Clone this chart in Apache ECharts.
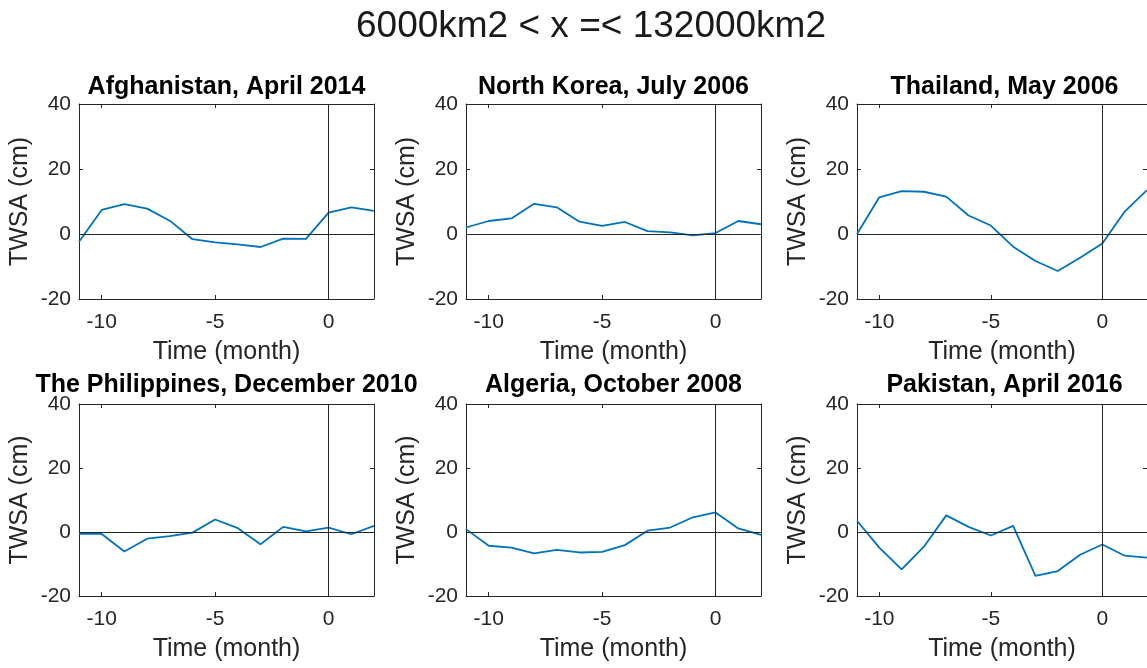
<!DOCTYPE html>
<html>
<head>
<meta charset="utf-8">
<script src="https://cdn.jsdelivr.net/npm/echarts@6/dist/echarts.min.js"></script>
<style>
  html, body { margin: 0; padding: 0; background: #fff; }
  #chart { width: 1147px; height: 668px; }
</style>
</head>
<body>
<div id="chart"></div>
<script>
var mainTitle = '6000km2 < x =< 132000km2'
var months = [-11, -10, -9, -8, -7, -6, -5, -4, -3, -2, -1, 0, 1, 2]
var xTicks = [-10, -5, 0]

var panelTitles = [
  'Afghanistan, April 2014',
  'North Korea, July 2006',
  'Thailand, May 2006',
  'The Philippines, December 2010',
  'Algeria, October 2008',
  'Pakistan, April 2016'
]

// TWSA (cm), one value per month
var afghanistan = [-2.4, 7.4, 9.2, 7.8, 4.1, -1.6, -2.6, -3.2, -4.0, -1.4, -1.5, 6.6, 8.2, 7.1]
var northKorea = [2.0, 4.0, 4.8, 9.3, 8.2, 3.8, 2.5, 3.7, 0.9, 0.5, -0.4, 0.3, 4.0, 3.0]
var thailand = [0.0, 11.3, 13.2, 13.0, 11.5, 5.7, 2.6, -3.9, -8.3, -11.4, -7.3, -2.9, 6.9, 13.5]
var philippines = [-0.6, -0.6, -6.1, -2.1, -1.3, -0.2, 3.9, 1.2, -3.8, 1.6, 0.2, 1.4, -0.7, 1.9]
var algeria = [0.9, -4.3, -4.9, -6.7, -5.6, -6.4, -6.2, -4.1, 0.4, 1.4, 4.6, 6.1, 1.1, -0.9]
var pakistan = [3.5, -4.9, -11.7, -4.6, 5.2, 1.6, -1.1, 1.9, -13.7, -12.2, -7.1, -3.9, -7.4, -8.0]

var panelData = [afghanistan, northKorea, thailand, philippines, algeria, pakistan]

var font = 'Liberation Sans'
var axisColor = '#262626'
var gridLefts = [79, 466, 857]
var gridTops = [104, 404]
var gridHeights = [195, 192]
var gridWidth = 295
var titleTops = [75, 373]

function makeXAxis (i, pos) {
  var bottom = pos === 'bottom'
  return {
    type: 'value',
    gridIndex: i,
    position: pos,
    min: -11,
    max: 2,
    name: bottom ? 'Time (month)' : '',
    nameLocation: 'middle',
    nameGap: 41,
    nameTextStyle: { fontFamily: font, fontSize: 25, color: axisColor },
    axisLine: { show: true, onZero: false, lineStyle: { color: axisColor, width: 1 } },
    axisTick: { show: true, inside: true, length: 4, customValues: xTicks, lineStyle: { color: axisColor } },
    axisLabel: { show: bottom, customValues: xTicks, margin: 13, fontFamily: font, fontSize: 21, color: axisColor },
    splitLine: { show: false }
  }
}

function makeYAxis (i, pos) {
  var left = pos === 'left'
  return {
    type: 'value',
    gridIndex: i,
    position: pos,
    min: -20,
    max: 40,
    interval: 20,
    name: left ? 'TWSA (cm)' : '',
    nameLocation: 'middle',
    nameGap: 46,
    nameTextStyle: { fontFamily: font, fontSize: 25, color: axisColor },
    axisLine: { show: true, onZero: false, lineStyle: { color: axisColor, width: 1 } },
    axisTick: { show: true, inside: true, length: 4, lineStyle: { color: axisColor } },
    axisLabel: { show: left, margin: 8, fontFamily: font, fontSize: 21, color: axisColor },
    splitLine: { show: false }
  }
}

function getOptions () {
  var option = {
    animation: false,
    backgroundColor: '#fff',
    title: [{
      text: mainTitle,
      left: 591,
      top: 8,
      textAlign: 'center',
      padding: 0,
      textStyle: { fontFamily: font, fontSize: 37, fontWeight: 'normal', color: '#1a1a1a' }
    }],
    grid: [],
    xAxis: [],
    yAxis: [],
    series: []
  }
  for (var i = 0; i < panelData.length; i++) {
    var row = Math.floor(i / 3)
    var col = i % 3
    option.grid.push({
      left: gridLefts[col],
      top: gridTops[row],
      width: gridWidth,
      height: gridHeights[row]
    })
    option.title.push({
      text: panelTitles[i],
      left: gridLefts[col] + gridWidth / 2,
      top: titleTops[row],
      textAlign: 'center',
      padding: 0,
      textStyle: { fontFamily: font, fontSize: 25, fontWeight: 'bold', color: '#000' }
    })
    option.xAxis.push(makeXAxis(i, 'bottom'), makeXAxis(i, 'top'))
    option.yAxis.push(makeYAxis(i, 'left'), makeYAxis(i, 'right'))
    var values = panelData[i]
    option.series.push({
      type: 'line',
      xAxisIndex: i * 2,
      yAxisIndex: i * 2,
      data: months.map(function (m, k) { return [m, values[k]] }),
      showSymbol: false,
      symbol: 'none',
      lineStyle: { color: '#0072BD', width: 1.8 },
      markLine: {
        silent: true,
        symbol: ['none', 'none'],
        label: { show: false },
        lineStyle: { color: axisColor, width: 1, type: 'solid' },
        emphasis: { disabled: true },
        data: [{ xAxis: 0 }, { yAxis: 0 }]
      }
    })
  }
  return option
}

var chart = echarts.init(document.getElementById('chart'))
chart.setOption(getOptions())
</script>
</body>
</html>
